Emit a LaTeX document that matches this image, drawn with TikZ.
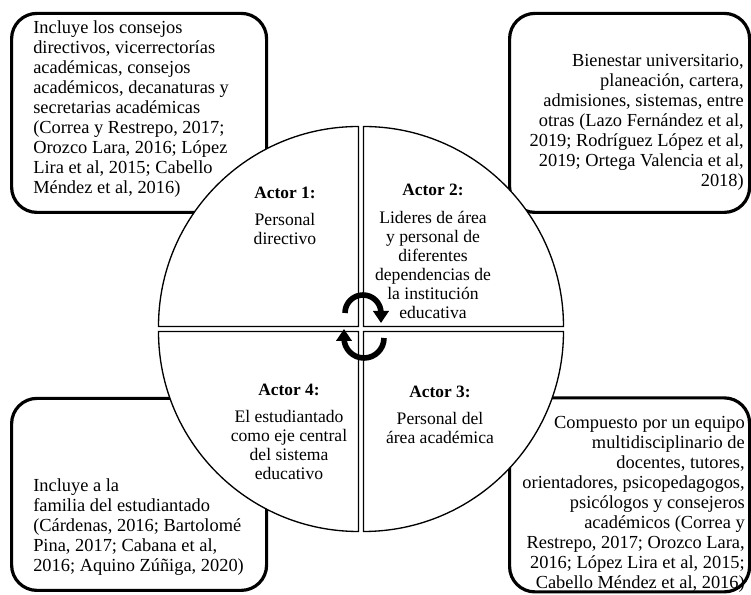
\documentclass[tikz,border=0pt]{standalone}
\usepackage{fontspec}
\setmainfont{Liberation Serif}
\usetikzlibrary{arrows.meta}
\begin{document}
\begin{tikzpicture}[x=0.75pt,y=0.75pt,
  boxframe/.style={draw=black,line width=2.4pt,rounded corners=19pt,inner sep=0pt,anchor=south west},
  quad/.style={draw=black,line width=1pt,fill=white},
  boxtext/.style={inner sep=0pt,font=\fontsize{13.8pt}{15pt}\selectfont},
  title/.style={inner sep=0pt,font=\fontsize{13pt}{15pt}\selectfont\bfseries},
  body/.style={inner sep=0pt,align=center,font=\fontsize{13.2pt}{14.25pt}\selectfont},
  cyc/.style={line width=4.2pt,-{Triangle[length=9pt,width=11.5pt]}}]
\useasboundingbox (0,0) rectangle (751,595);
% boxes
\node[boxframe,minimum width=255*0.75pt,minimum height=199*0.75pt] (b1) at (10,381) {};
\node[boxframe,minimum width=240*0.75pt,minimum height=199*0.75pt] (b2) at (508,381) {};
\node[boxframe,minimum width=255*0.75pt,minimum height=192*0.75pt] (b4) at (10,3) {};
\node[boxframe,minimum width=240*0.75pt,minimum height=194*0.75pt] (b3) at (508,1.5) {};
% box texts
\node[boxtext,align=left,anchor=west] (t1) at (33,486) {Incluye los consejos\\directivos, vicerrectorías\\académicas, consejos\\académicos, decanaturas y\\secretarias académicas\\(Correa y Restrepo, 2017;\\Orozco Lara, 2016; López\\Lira et al, 2015; Cabello\\Méndez et al, 2016)};
\node[boxtext,align=right,anchor=east] (t2) at (744,473) {Bienestar universitario,\\planeación, cartera,\\admisiones, sistemas, entre\\otras (Lazo Fernández et al,\\2019; Rodríguez López et al,\\2019; Ortega Valencia et al,\\2018)};
\node[boxtext,align=left,anchor=west] (t4) at (33,68) {Incluye a la\\familia del estudiantado\\(Cárdenas, 2016; Bartolomé\\Pina, 2017; Cabana et al,\\2016; Aquino Zúñiga, 2020)};
\node[boxtext,align=right,anchor=east] (t3) at (745,90.5) {Compuesto por un equipo\\multidisciplinario de\\docentes, tutores,\\orientadores, psicopedagogos,\\psicólogos y consejeros\\académicos (Correa y\\Restrepo, 2017; Orozco Lara,\\2016; López Lira et al, 2015;\\Cabello Méndez et al, 2016)};
% quadrants
\draw[quad] (358.5,268.5) -- ++(-200,0) arc[start angle=180,end angle=90,radius=200] -- cycle;
\draw[quad] (363.5,268.5) -- ++(200,0) arc[start angle=0,end angle=90,radius=200] -- cycle;
\draw[quad] (363.5,263.5) -- ++(200,0) arc[start angle=0,end angle=-90,radius=200] -- cycle;
\draw[quad] (358.5,263.5) -- ++(-200,0) arc[start angle=180,end angle=270,radius=200] -- cycle;
% actor texts
\node[title] (a1) at (285,402) {Actor 1:};
\node[body] (d1) at (285,366) {Personal\\directivo};
\node[title] (a2) at (433,405) {Actor 2:};
\node[body] (d2) at (433,330) {Lideres de área\\y personal de\\diferentes\\dependencias de\\la institución\\educativa};
\node[title] (a3) at (440,203) {Actor 3:};
\node[body] (d3) at (440,167.5) {Personal del\\área académica};
\node[title] (a4) at (289,205) {Actor 4:};
\node[body] (d4) at (289,150) {El estudiantado\\como eje central\\del sistema\\educativo};
% cycle arrows
\coordinate (p1) at (345,282);
\coordinate (p2) at (384,257);
\draw[cyc] (p1) arc[start angle=180,end angle=0,radius=18] -- ++(0,-10);
\draw[cyc] (p2) arc[start angle=0,end angle=-180,radius=20] -- ++(0,9);
\end{tikzpicture}
\end{document}
